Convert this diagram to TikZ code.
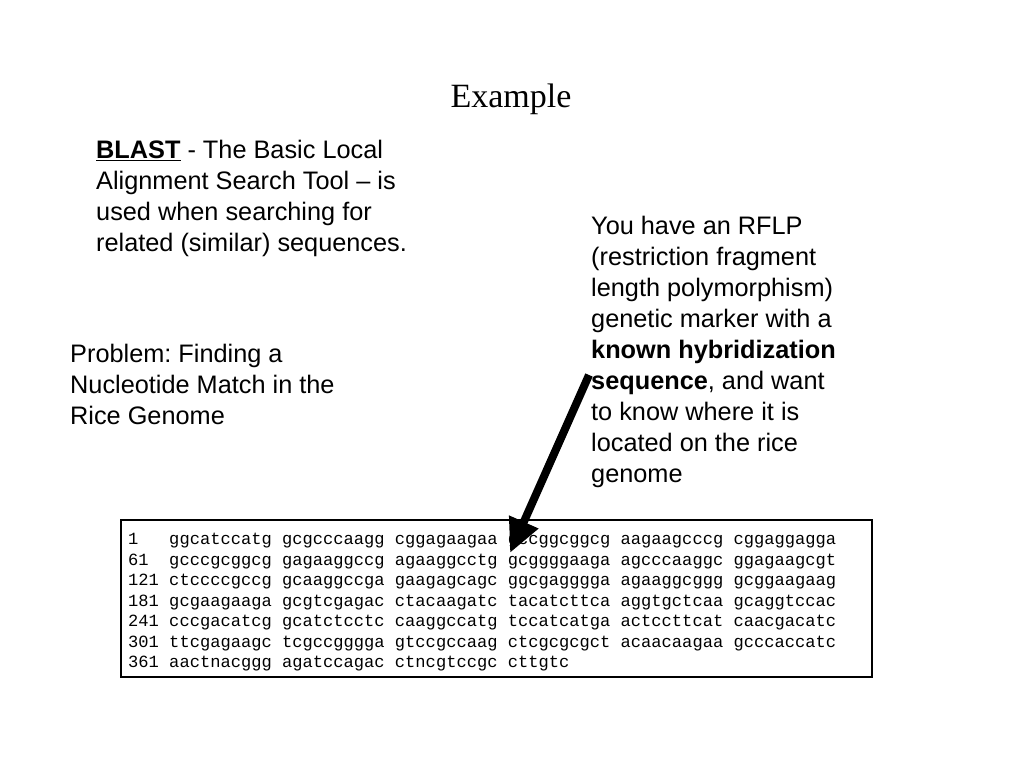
\documentclass[tikz,border=0pt]{standalone}
\usepackage{fontspec}
\setmainfont{Liberation Sans}
\newfontfamily\titlefont{Liberation Serif}
\newfontfamily\seqfont{Liberation Mono}
\usetikzlibrary{arrows.meta}
\frenchspacing
\tikzset{
  body/.style={anchor=north west, inner sep=0pt, align=left, font=\fontsize{25.3}{31}\selectfont},
  seqbox/.style={draw=black, line width=1.5pt, anchor=north west, inner sep=0pt, minimum width=751pt, minimum height=157pt},
  seqtext/.style={anchor=north west, inner sep=0pt, align=left, font=\seqfont\fontsize{17.1}{20.5}\selectfont},
  pointer/.style={line width=8pt, -{Triangle[length=34pt,width=30pt]}}
}
\begin{document}
\begin{tikzpicture}[x=1pt,y=-1pt]
\useasboundingbox[fill=white] (0,0) rectangle (1024,768);
\node[anchor=base, inner sep=0pt, font=\titlefont\fontsize{34}{40}\selectfont] (title) at (511,107) {Example};
\node[body] (blast) at (96,140) {\underline{\textbf{BLAST}} - The Basic Local\\Alignment Search Tool -- is\\used when searching for\\related (similar) sequences.};
\node[body] (problem) at (70,344) {Problem: Finding a\\Nucleotide Match in the\\Rice Genome};
\node[body] (rflp) at (591,216) {You have an RFLP\\(restriction fragment\\length polymorphism)\\genetic marker with a\\\textbf{known hybridization}\\\textbf{sequence}, and want\\to know where it is\\located on the rice\\genome};
\node[seqbox] (box) at (120,519) {};
\node[seqtext] (seq) at (128,533) {1~~~ggcatccatg gcgcccaagg cggagaagaa gccggcggcg aagaagcccg cggaggagga\\
61~~gcccgcggcg gagaaggccg agaaggcctg gcggggaaga agcccaaggc ggagaagcgt\\
121 ctccccgccg gcaaggccga gaagagcagc ggcgagggga agaaggcggg gcggaagaag\\
181 gcgaagaaga gcgtcgagac ctacaagatc tacatcttca aggtgctcaa gcaggtccac\\
241 cccgacatcg gcatctcctc caaggccatg tccatcatga actccttcat caacgacatc\\
301 ttcgagaagc tcgccgggga gtccgccaag ctcgcgcgct acaacaagaa gcccaccatc\\
361 aactnacggg agatccagac ctncgtccgc cttgtc};
\coordinate (arrowstart) at (589,375);
\coordinate (arrowtip) at (510,553);
\draw[pointer] (arrowstart) -- (arrowtip);
\end{tikzpicture}
\end{document}
